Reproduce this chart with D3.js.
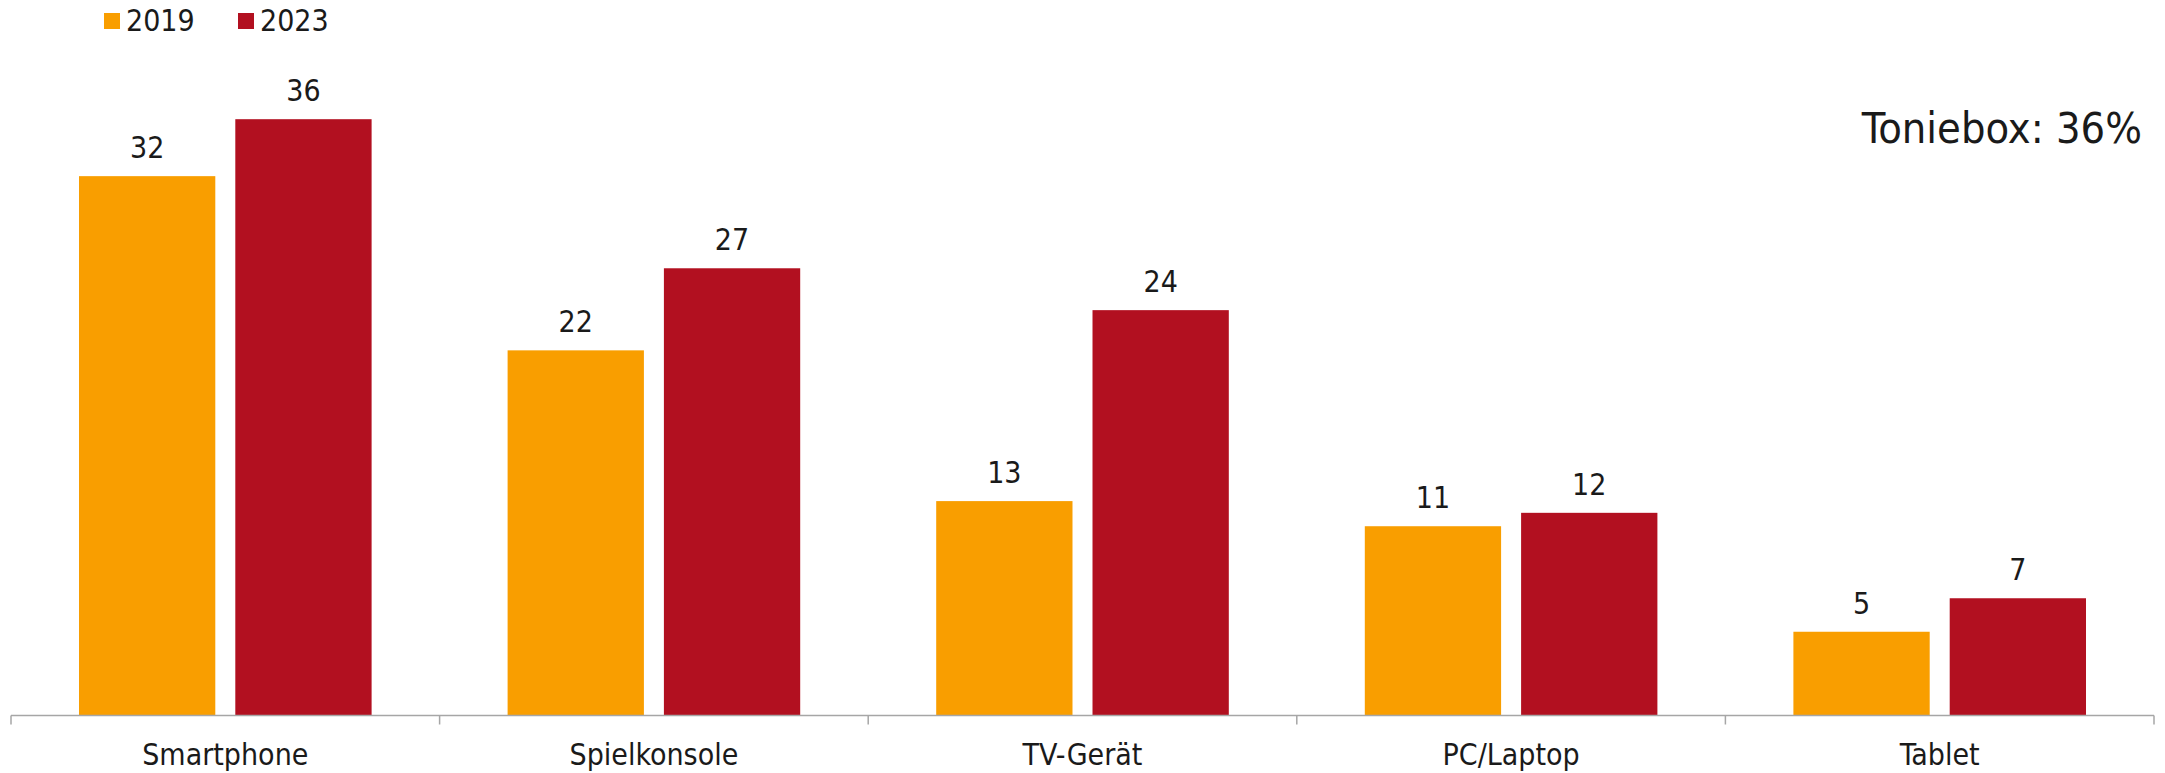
<!DOCTYPE html>
<html>
<head>
<meta charset="utf-8">
<script src="https://cdn.jsdelivr.net/npm/d3@7"></script>
<style>
  body { margin: 0; background: #fff; }
  text { font-family: "DejaVu Sans Condensed", "DejaVu Sans", sans-serif; fill: #1a1a1a; }
</style>
</head>
<body>
<script>
const width = 2165;
const height = 773;

const categories = ['Smartphone', 'Spielkonsole', 'TV-Gerät', 'PC/Laptop', 'Tablet'];
const series = ['2019', '2023'];
const values2019 = [32.2, 21.8, 12.8, 11.3, 5.0];
const values2023 = [35.6, 26.7, 24.2, 12.1, 7.0];
const colors = ['#f99e00', '#b21020'];
const note = 'Toniebox: 36%';

const data = categories.map((c, i) => ({
    cat: c,
    vals: [values2019[i], values2023[i]]
}));

const baseY = 715.5;
const left = 11, right = 2154;

const svg = d3.select('body').append('svg')
    .attr('width', width)
    .attr('height', height);

const x0 = d3.scaleBand()
    .domain(categories)
    .range([left, right])
    .padding(0);

// inner scale for the two bars of a group
const x1 = d3.scaleBand()
    .domain(series)
    .range([68, x0.bandwidth() - 68])
    .paddingInner(0.128);

const yScale = d3.scaleLinear()
    .domain([0, 40])
    .range([baseY, baseY - 40 * 16.75]);

// bars
const groups = svg.selectAll('.group')
    .data(data)
    .enter().append('g')
    .attr('class', 'group')
    .attr('transform', d => 'translate(' + x0(d.cat) + ',0)');

groups.selectAll('rect')
    .data(d => d.vals.map((v, i) => ({ s: series[i], v: v, i: i })))
    .enter().append('rect')
    .attr('x', d => x1(d.s))
    .attr('y', d => yScale(d.v))
    .attr('width', x1.bandwidth())
    .attr('height', d => baseY - yScale(d.v))
    .style('fill', d => colors[d.i]);

groups.selectAll('.val')
    .data(d => d.vals.map((v, i) => ({ s: series[i], v: v })))
    .enter().append('text')
    .attr('class', 'val')
    .attr('x', d => x1(d.s) + x1.bandwidth() / 2)
    .attr('y', d => yScale(d.v) - 18)
    .attr('text-anchor', 'middle')
    .style('font-size', '30px')
    .text(d => d3.format('.0f')(d.v));

// x axis
const xAxis = d3.axisBottom(x0).tickSize(0).tickPadding(0);
const axisG = svg.append('g')
    .attr('class', 'x-axis')
    .attr('transform', 'translate(0,' + baseY + ')')
    .call(xAxis);
axisG.select('.domain').remove();
axisG.selectAll('.tick text').remove();

axisG.append('line')
    .attr('x1', left).attr('x2', right)
    .attr('y1', 0).attr('y2', 0)
    .style('stroke', '#a6a6a6')
    .style('stroke-width', 1.5);

const bounds = categories.map(c => x0(c)).concat([right]);
axisG.selectAll('.sep')
    .data(bounds)
    .enter().append('line')
    .attr('class', 'sep')
    .attr('x1', d => d).attr('x2', d => d)
    .attr('y1', 0).attr('y2', 9)
    .style('stroke', '#a6a6a6')
    .style('stroke-width', 1.5);

svg.selectAll('.cat')
    .data(categories)
    .enter().append('text')
    .attr('class', 'cat')
    .attr('x', d => x0(d) + x0.bandwidth() / 2)
    .attr('y', 765)
    .attr('text-anchor', 'middle')
    .style('font-size', '30px')
    .text(d => d);

// legend
const legendX = [104, 238];
const legend = svg.selectAll('.legend')
    .data(series)
    .enter().append('g')
    .attr('class', 'legend')
    .attr('transform', (d, i) => 'translate(' + legendX[i] + ',0)');
legend.append('rect')
    .attr('x', 0).attr('y', 13)
    .attr('width', 16).attr('height', 16)
    .style('fill', (d, i) => colors[i]);
legend.append('text')
    .attr('x', 22).attr('y', 31)
    .style('font-size', '30px')
    .text(d => d);

// note
svg.append('text')
    .attr('x', 2142)
    .attr('y', 143)
    .attr('text-anchor', 'end')
    .style('font-size', '43px')
    .text(note);
</script>
</body>
</html>
